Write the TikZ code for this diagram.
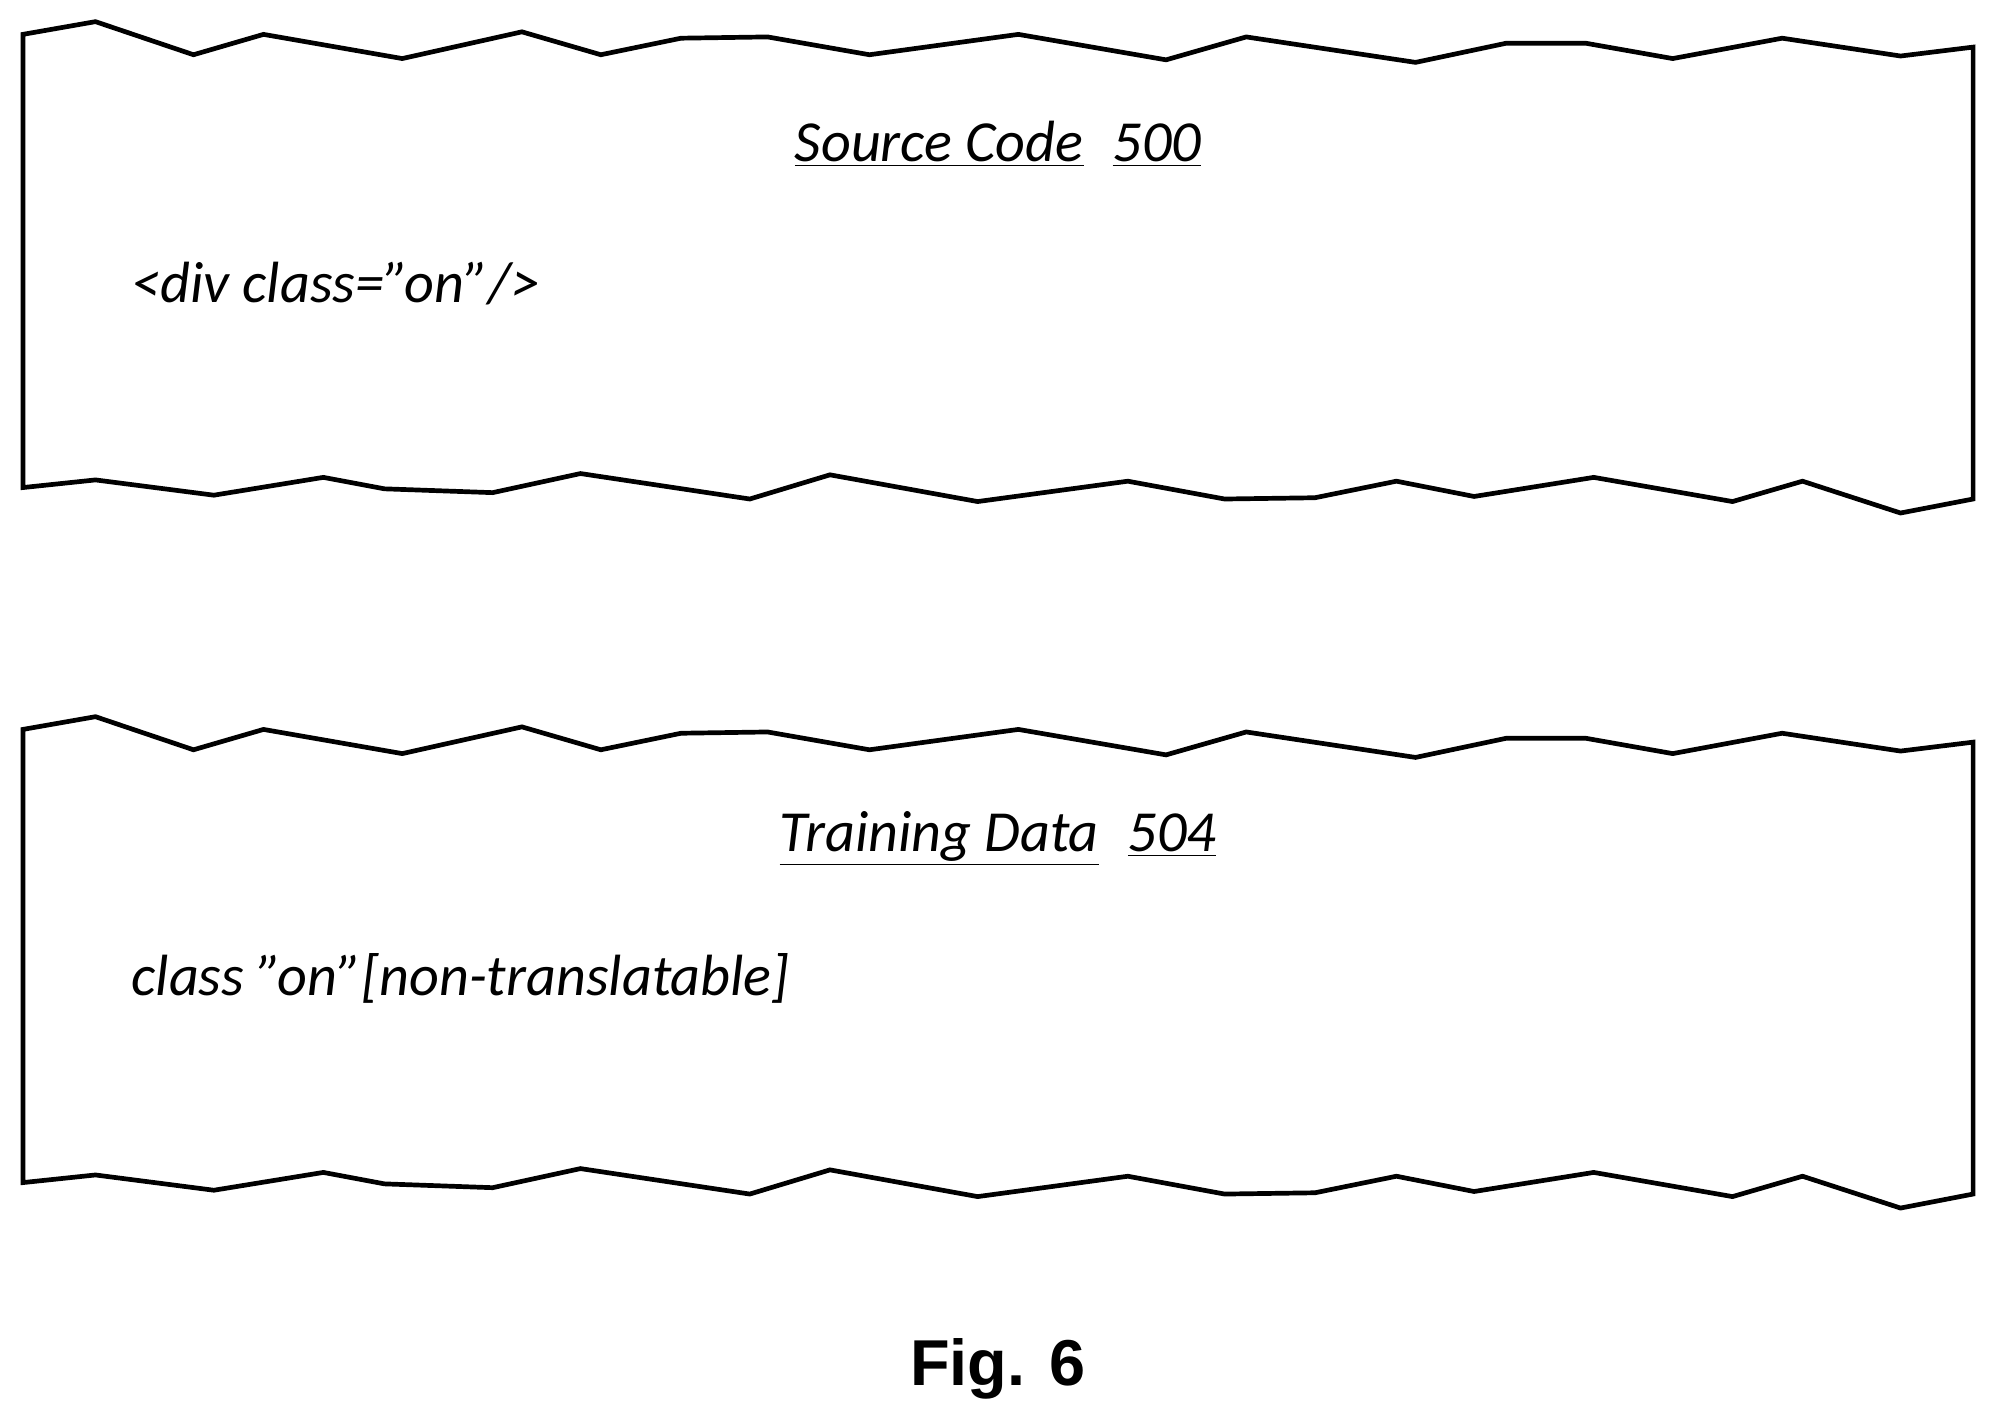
\documentclass[tikz,border=0pt]{standalone}
\usepackage{fontspec}
\setmainfont{Carlito}
\newfontfamily\arialf{Liberation Sans}
\newcommand{\dq}{\char"22\relax}
\begin{document}
\begin{tikzpicture}[x=0.02cm,y=-0.02cm,
  paper/.style={draw=black,line width=2.1pt,line join=miter},
  lbl/.style={font=\fontsize{26}{30}\selectfont\itshape,inner sep=0pt},
  ttl/.style={font=\fontsize{26}{30}\selectfont\itshape,inner sep=0pt}]
\useasboundingbox (0,0) rectangle (1568,1120);
\foreach \dy/\nm in {0/a,546/b}{
\begin{scope}[yshift=-\dy*0.02cm]
\draw[paper] (18,27)--(75,17)--(152,43)--(207,27)--(316,46)--(410,25)--(472,43)--(535,30)--(603,29)--(683,43)--(800,27)--(916,47)--(979,29)--(1112,49)--(1183,34)--(1246,34)--(1314,46)--(1400,30)--(1493,44)--(1550,37)
 --(1550,392)--(1493,403)--(1416,378)--(1361,394)--(1252,375)--(1158,390)--(1097,378)--(1033,391)--(962,392)--(886,378)--(768,394)--(652,373)--(589,392)--(456,372)--(387,387)--(302,384)--(254,375)--(168,389)--(75,377)--(18,383)--cycle;
\end{scope}}
\node[ttl] (t1) at (784,113) {\underline{Source Code}\hspace{0.5em}\underline{500}};
\node[lbl,anchor=west] (c1) at (103,223) {<div class=\dq on\dq/>};
\node[ttl] (t2) at (784,659) {\underline{Training Data}\hspace{0.5em}\underline{504}};
\node[lbl,anchor=west] (c2) at (103,769) {class \dq on\dq[non-translatable]};
\node[font=\arialf\bfseries\fontsize{29}{34}\selectfont] (fig) at (784,1075) {Fig. 6};
\end{tikzpicture}
\end{document}
